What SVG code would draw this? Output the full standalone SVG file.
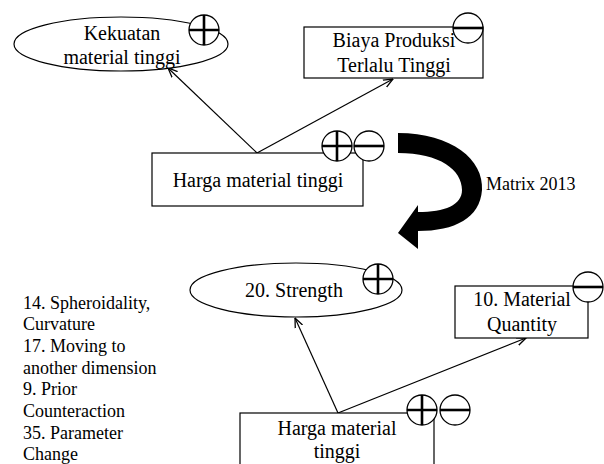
<svg xmlns="http://www.w3.org/2000/svg" width="604" height="464" viewBox="0 0 604 464">
<defs>
<style>
.t{font-size:20px;fill:#000;text-anchor:middle}
.s{font-size:18px;fill:#000}
.n{fill:#fff;stroke:#000;stroke-width:1.2}
.c{fill:#fff;stroke:#000;stroke-width:1.3}
.x{stroke:#000;stroke-width:2.6;fill:none}
.e{stroke:#000;stroke-width:1.2;fill:none;marker-end:url(#ah)}
</style>
<marker id="ah" viewBox="0 0 10 10" refX="9.5" refY="5" markerWidth="10" markerHeight="10" markerUnits="userSpaceOnUse" orient="auto">
<path d="M0,1 L9.5,5 L0,9" fill="none" stroke="#000" stroke-width="1.3"/>
</marker>
<g id="plus"><circle class="c" cx="0" cy="0" r="15"/><path class="x" d="M-15,0 H15 M0,-15 V15"/></g>
<g id="minus"><circle class="c" cx="0" cy="0" r="15"/><path class="x" d="M-15,0 H15"/></g>
</defs>
<rect width="604" height="464" fill="#fff"/>

<g id="connectors">
<line class="e" x1="257" y1="153" x2="168" y2="68"/>
<line class="e" x1="257" y1="153" x2="393" y2="79"/>
<line class="e" x1="338" y1="413" x2="295" y2="318"/>
<line class="e" x1="338" y1="413" x2="526" y2="338"/>
</g>

<g font-family="'Liberation Serif', 'DejaVu Serif', serif">
<g id="node-kekuatan">
<ellipse class="n" cx="121" cy="44" rx="107" ry="27"/>
<text class="t" x="122" y="40">Kekuatan</text>
<text class="t" x="122" y="64">material tinggi</text>
<use href="#plus" x="204" y="30"/>
</g>

<g id="node-biaya">
<rect class="n" x="304" y="27" width="179" height="51"/>
<text class="t" x="394" y="47">Biaya Produksi</text>
<text class="t" x="394" y="72">Terlalu Tinggi</text>
<use href="#minus" x="468" y="28"/>
</g>

<g id="node-harga-top">
<rect class="n" x="152" y="153" width="211" height="53"/>
<text class="t" x="258" y="187">Harga material tinggi</text>
<use href="#plus" x="337" y="146"/>
<use href="#minus" x="369" y="146"/>
</g>

<g id="matrix-arrow">
<path d="M398,133 C452,133 484,160 482,190 C480,218 455,231 418,231 L418,249 L398,233 L418,205 L418,212 C445,212 462,205 462,190 C462,170 440,153 398,153 Z" fill="#000"/>
<text class="s" x="486" y="190">Matrix 2013</text>
</g>

<g id="principles">
<text class="s" x="23" y="308.5">14. Spheroidality,</text>
<text class="s" x="23" y="330">Curvature</text>
<text class="s" x="23" y="352">17. Moving to</text>
<text class="s" x="23" y="373.5">another dimension</text>
<text class="s" x="23" y="395">9. Prior</text>
<text class="s" x="23" y="417">Counteraction</text>
<text class="s" x="23" y="438.5">35. Parameter</text>
<text class="s" x="23" y="460">Change</text>
</g>

<g id="node-strength">
<ellipse class="n" cx="296" cy="290" rx="106" ry="27"/>
<text class="t" x="294" y="297">20. Strength</text>
<use href="#plus" x="378" y="279"/>
</g>

<g id="node-quantity">
<rect class="n" x="455" y="286" width="133" height="52"/>
<text class="t" x="522" y="306">10. Material</text>
<text class="t" x="522" y="331">Quantity</text>
<use href="#minus" x="588" y="287"/>
</g>

<g id="node-harga-bottom">
<rect class="n" x="240" y="413" width="194" height="70"/>
<text class="t" x="337" y="435">Harga material</text>
<text class="t" x="337" y="458">tinggi</text>
<use href="#plus" x="422" y="410"/>
<use href="#minus" x="455" y="410"/>
</g>
</g>
</svg>
